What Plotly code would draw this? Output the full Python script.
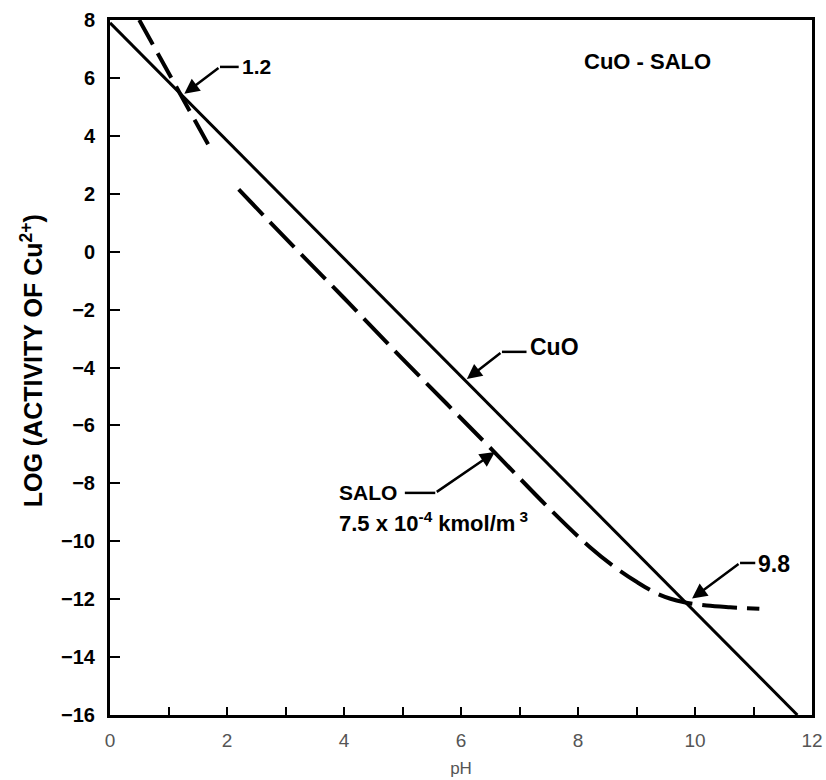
import plotly.graph_objects as go

# ---- data ----
ph_cuo = [0.0, 11.75]
log_cuo = [7.9, -16.0]

ph_salo_upper = [0.5, 1.68]
log_salo_upper = [8.0, 3.7]

ph_salo_lower = [2.2, 3.16, 4.0, 5.0, 6.55, 7.5, 8.2, 8.6, 9.0, 9.4, 9.8, 10.2, 10.6, 11.1]
log_salo_lower = [2.15, 0.13, -1.6, -3.7, -6.88, -8.85, -10.2, -10.85, -11.4, -11.85, -12.1, -12.22, -12.28, -12.33]

x_ticks = [0, 2, 4, 6, 8, 10, 12]
y_ticks = [8, 6, 4, 2, 0, -2, -4, -6, -8, -10, -12, -14, -16]

FONT = "Liberation Sans"

fig = go.Figure()
fig.add_trace(go.Scatter(x=ph_cuo, y=log_cuo, mode="lines",
                         line=dict(color="black", width=3), showlegend=False))
fig.add_trace(go.Scatter(x=ph_salo_upper, y=log_salo_upper, mode="lines",
                         line=dict(color="black", width=4, dash="28px,10px"), showlegend=False))
fig.add_trace(go.Scatter(x=ph_salo_lower, y=log_salo_lower, mode="lines", line_shape="spline",
                         line=dict(color="black", width=4, dash="35px,10px"), showlegend=False))


def leader(text, tx, ty, bx0, bx1, by, px, py, size=22):
    fig.add_annotation(x=tx, y=ty, text=text, showarrow=False, xanchor="left",
                       font=dict(family=FONT, size=size, color="black", weight="bold"))
    fig.add_shape(type="line", x0=bx0, x1=bx1, y0=by, y1=by, line=dict(color="black", width=2.5))
    fig.add_annotation(x=px, y=py, ax=bx0, ay=by, axref="x", ayref="y", text="",
                       showarrow=True, arrowhead=2, arrowsize=1.2, arrowwidth=2.5, arrowcolor="black")

leader("1.2", 2.22, 6.4, 1.88, 2.2, 6.38, 1.27, 5.45, size=21)
leader("CuO", 7.14, -3.3, 6.70, 7.12, -3.46, 6.10, -4.40, size=23)
leader("9.8", 11.04, -10.8, 10.77, 11.03, -10.75, 9.95, -11.98, size=23)

# SALO label
fig.add_annotation(x=4.41, y=-8.3, text="SALO", showarrow=False, xanchor="center",
                   font=dict(family=FONT, size=21, color="black", weight="bold"))
fig.add_annotation(x=3.88, y=-9.35, text="7.5 x 10<sup>-4</sup> kmol/m<sup> 3</sup>", showarrow=False,
                   xanchor="left", font=dict(family=FONT, size=22, color="black", weight="bold"))
fig.add_shape(type="line", x0=5.04, x1=5.56, y0=-8.33, y1=-8.33, line=dict(color="black", width=2.5))
fig.add_annotation(x=6.58, y=-6.92, ax=5.56, ay=-8.33, axref="x", ayref="y", text="",
                   showarrow=True, arrowhead=2, arrowsize=1.2, arrowwidth=2.5, arrowcolor="black")

# inner title
fig.add_annotation(x=9.18, y=6.55, text="CuO - SALO", showarrow=False, xanchor="center",
                   font=dict(family=FONT, size=22, color="black", weight="bold"))

# y axis title as annotation
fig.add_annotation(xref="paper", yref="paper", x=-0.111, y=0.509, xanchor="center", yanchor="middle",
                   text="LOG (ACTIVITY OF Cu<sup>2+</sup>)", textangle=-90, showarrow=False,
                   font=dict(family=FONT, size=25, color="black", weight="bold"))

fig.update_xaxes(range=[0, 12], tickmode="array", tickvals=x_ticks,
                 ticktext=[str(v) for v in x_ticks], automargin=False,
                 minor=dict(dtick=1, ticks="inside", ticklen=8, tickwidth=2, tickcolor="black"),
                 ticks="inside", ticklen=8, tickwidth=2, tickcolor="black",
                 showline=True, linecolor="black", linewidth=3, mirror=True,
                 showgrid=False, zeroline=False, ticklabelstandoff=6,
                 tickfont=dict(family=FONT, size=19, color="#555555"),
                 title=dict(text="pH", font=dict(family=FONT, size=17, color="#555555"), standoff=13))
fig.update_yaxes(range=[-16, 8], tickmode="array", tickvals=y_ticks,
                 ticktext=[str(v).replace("-", "\u2212") for v in y_ticks], automargin=False,
                 ticks="inside", ticklen=10, tickwidth=2, tickcolor="black",
                 showline=True, linecolor="black", linewidth=3, mirror=True,
                 showgrid=False, zeroline=False, ticklabelstandoff=8,
                 tickfont=dict(family=FONT, size=20, color="black", weight="bold"))

fig.update_layout(width=826, height=780, plot_bgcolor="white", paper_bgcolor="white",
                  margin=dict(l=110, r=14, t=20, b=65), showlegend=False)

fig.write_html("out.html", config={"displayModeBar": False},
               post_script="document.body.style.margin='0';document.body.style.overflow='hidden';")
